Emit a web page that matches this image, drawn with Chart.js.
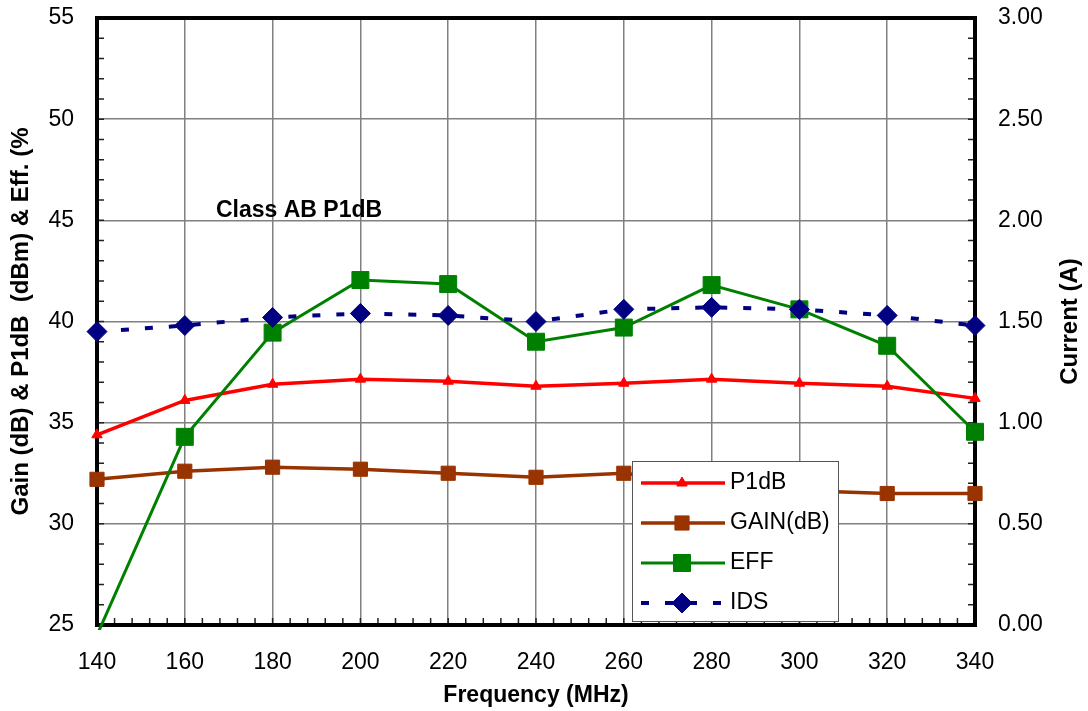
<!DOCTYPE html>
<html>
<head>
<meta charset="utf-8">
<title>Class AB P1dB</title>
<script src="https://cdn.jsdelivr.net/npm/chart.js@4.4.1/dist/chart.umd.min.js"></script>
<style>
  body { margin: 0; background: #fff; }
  #chart { display: block; }
</style>
</head>
<body>
<canvas id="chart" width="1088" height="711"></canvas>
<script>
// frequency points (MHz)
const freqs = [140, 160, 180, 200, 220, 240, 260, 280, 300, 320, 340];
// left axis series
const p1db = [34.4, 36.1, 36.9, 37.15, 37.05, 36.8, 36.95, 37.15, 36.95, 36.8, 36.2];
const gain = [32.2, 32.6, 32.8, 32.7, 32.5, 32.3, 32.5, 32.0, 31.65, 31.5, 31.5];
const eff = [24.5, 34.3, 39.45, 42.05, 41.85, 39.0, 39.7, 41.8, 40.6, 38.8, 34.55];
// right axis series (A)
const ids = [1.45, 1.48, 1.52, 1.54, 1.53, 1.5, 1.56, 1.57, 1.56, 1.53, 1.48];

const seriesNames = ["P1dB", "GAIN(dB)", "EFF", "IDS"];
const leftTitle = "Gain (dB) & P1dB  (dBm) & Eff. (%";
const rightTitle = "Current (A)";
const xTitle = "Frequency (MHz)";
const noteText = "Class AB P1dB";

const FONT = "'Liberation Sans', Arial, sans-serif";

function toPoints(values) {
  return freqs.map(function (f, i) {
    return { x: f, y: values[i] };
  });
}

const styles = [
  { color: "#ff0000", width: 3.5, point: "triangle", radius: 6, dash: [] },
  { color: "#993300", width: 3.5, point: "rect", radius: 10, dash: [] },
  { color: "#008000", width: 3, point: "rect", radius: 12, dash: [] },
  { color: "#000080", width: 4, point: "rectRot", radius: 10, dash: [8, 16] },
];

function marker(ctx, style, x, y) {
  // small copy of the point shapes for the legend box
  const r = style.radius;
  ctx.beginPath();
  if (style.point === "triangle") {
    for (let k = 0; k < 3; k++) {
      const a = (k * 2 * Math.PI) / 3;
      const px = x + Math.sin(a) * r;
      const py = y - Math.cos(a) * r;
      if (k === 0) ctx.moveTo(px, py);
      else ctx.lineTo(px, py);
    }
  } else if (style.point === "rect") {
    const s = r * Math.SQRT1_2;
    ctx.rect(x - s, y - s, 2 * s, 2 * s);
  } else {
    ctx.moveTo(x - r, y);
    ctx.lineTo(x, y - r);
    ctx.lineTo(x + r, y);
    ctx.lineTo(x, y + r);
  }
  ctx.closePath();
  ctx.fillStyle = style.color;
  ctx.fill();
  ctx.lineWidth = 1;
  ctx.strokeStyle = style.color;
  ctx.stroke();
}

const frameAndTicks = {
  id: "frameAndTicks",
  beforeDatasetsDraw(chart) {
    const { ctx, chartArea: a, scales } = chart;
    ctx.save();
    ctx.strokeStyle = "#222";
    ctx.lineWidth = 1.5;
    ctx.beginPath();
    for (let v = 25; v <= 55; v += 1) {
      const y = scales.y.getPixelForValue(v);
      ctx.moveTo(a.left, y);
      ctx.lineTo(a.left + 7, y);
    }
    for (let i = 0; i <= 30; i++) {
      const y = scales.y1.getPixelForValue(i / 10);
      ctx.moveTo(a.right, y);
      ctx.lineTo(a.right - 7, y);
    }
    for (let f = 140; f <= 340; f += 4) {
      const x = scales.x.getPixelForValue(f);
      ctx.moveTo(x, a.bottom);
      ctx.lineTo(x, a.bottom - 7);
    }
    ctx.stroke();
    // thick black frame round the plot
    ctx.strokeStyle = "#000";
    ctx.lineWidth = 4;
    ctx.strokeRect(a.left, a.top, a.right - a.left, a.bottom - a.top);
    ctx.restore();
  },
  afterDatasetsDraw(chart) {
    const { ctx, chartArea: a, scales } = chart;
    ctx.save();

    // note inside the plot
    ctx.fillStyle = "#000";
    ctx.font = "bold 23px " + FONT;
    ctx.textAlign = "left";
    ctx.textBaseline = "middle";
    ctx.fillText(noteText, scales.x.getPixelForValue(167.1), scales.y.getPixelForValue(45.5));

    // right axis title, reading upwards
    ctx.save();
    ctx.translate(1070, (a.top + a.bottom) / 2);
    ctx.rotate(-Math.PI / 2);
    ctx.font = "bold 24px " + FONT;
    ctx.textAlign = "center";
    ctx.fillText(rightTitle, 0, 0);
    ctx.restore();

    // legend box
    const bx = a.left + 535;
    const by = a.top + 443;
    const bw = 206;
    const bh = 160;
    ctx.fillStyle = "#fff";
    ctx.fillRect(bx, by, bw, bh);
    ctx.strokeStyle = "#555";
    ctx.lineWidth = 1;
    ctx.strokeRect(bx + 0.5, by + 0.5, bw, bh);
    for (let i = 0; i < seriesNames.length; i++) {
      const st = styles[i];
      const cy = by + 22 + i * 40;
      ctx.save();
      ctx.strokeStyle = st.color;
      ctx.lineWidth = st.width;
      ctx.setLineDash(st.dash);
      ctx.beginPath();
      ctx.moveTo(bx + 9, cy);
      ctx.lineTo(bx + 93, cy);
      ctx.stroke();
      ctx.restore();
      marker(ctx, st, bx + 50, cy);
      ctx.fillStyle = "#000";
      ctx.font = "23px " + FONT;
      ctx.textAlign = "left";
      ctx.textBaseline = "middle";
      ctx.fillText(seriesNames[i], bx + 98, cy);
    }
    ctx.restore();
  },
};

function makeDataset(i, values, axis, order) {
  const st = styles[i];
  return {
    label: seriesNames[i],
    data: toPoints(values),
    yAxisID: axis,
    borderColor: st.color,
    backgroundColor: st.color,
    borderWidth: st.width,
    borderDash: st.dash,
    pointStyle: st.point,
    pointRadius: function (c) {
      // no marker where the value sits below the axis range
      return c.raw && axis === "y" && c.raw.y < 25 ? 0 : st.radius;
    },
    pointBorderColor: st.color,
    pointBorderWidth: 1,
    tension: 0,
    order: order,
    clip: { left: 20, top: 20, right: 20, bottom: 5 },
  };
}

const tickFont = { family: FONT, size: 23 };

// fixed side widths, and no extra room asked for by the end labels
function fixWidth(w) {
  return function (s) {
    s.width = w;
    s.paddingTop = 0;
    s.paddingBottom = 0;
  };
}

new Chart(document.getElementById("chart"), {
  type: "line",
  data: {
    datasets: [
      makeDataset(0, p1db, "y", 3),
      makeDataset(1, gain, "y", 2),
      makeDataset(2, eff, "y", 1),
      makeDataset(3, ids, "y1", 0),
    ],
  },
  options: {
    responsive: false,
    animation: false,
    devicePixelRatio: 1,
    layout: { padding: { top: 18, left: 0, right: 0, bottom: 0 } },
    plugins: { legend: { display: false }, tooltip: { enabled: false } },
    scales: {
      x: {
        type: "linear",
        min: 140,
        max: 340,
        ticks: { stepSize: 20, color: "#000", font: tickFont, padding: 24 },
        grid: { color: "#808080", lineWidth: 1.5, drawTicks: false },
        border: { display: false },
        title: {
          display: true,
          text: xTitle,
          color: "#000",
          font: { family: FONT, size: 23, weight: "bold" },
          padding: { top: 0, bottom: 2 },
        },
        afterFit: function (s) {
          s.height = 86;
          s.paddingLeft = 0;
          s.paddingRight = 0;
        },
      },
      y: {
        position: "left",
        min: 25,
        max: 55,
        ticks: { stepSize: 5, color: "#000", font: tickFont, padding: 23 },
        grid: { color: "#808080", lineWidth: 1.5, drawTicks: false },
        border: { display: false },
        title: {
          display: true,
          text: leftTitle,
          color: "#000",
          font: { family: FONT, size: 24, weight: "bold" },
          padding: { top: 7, bottom: 0 },
        },
        afterFit: fixWidth(97),
      },
      y1: {
        position: "right",
        min: 0,
        max: 3,
        ticks: {
          stepSize: 0.5,
          color: "#000",
          font: tickFont,
          padding: 23,
          callback: function (v) { return Number(v).toFixed(2); },
        },
        grid: { display: false, drawTicks: false },
        border: { display: false },
        afterFit: fixWidth(113),
      },
    },
  },
  plugins: [frameAndTicks],
});
</script>
</body>
</html>
